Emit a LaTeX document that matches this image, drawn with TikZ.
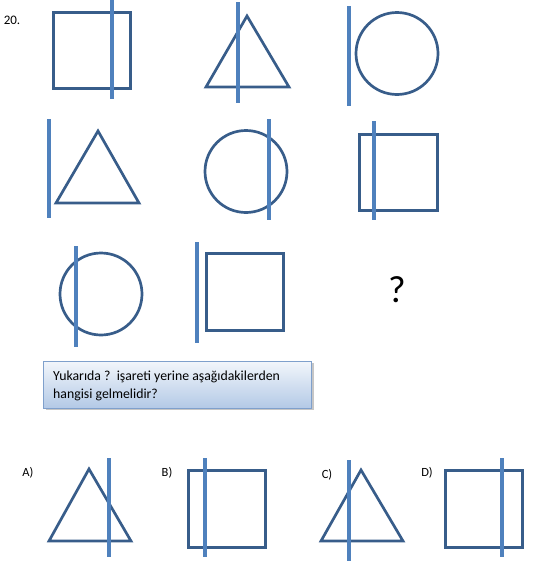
\documentclass[tikz,border=0pt]{standalone}
\usepackage{fontspec}
\setmainfont{Carlito}
\usetikzlibrary{shadows}
\definecolor{figline}{HTML}{385D8A}
\definecolor{barblue}{HTML}{4F81BD}
\definecolor{boxedge}{HTML}{7FA0CC}
\definecolor{boxtop}{HTML}{F2F6FB}
\definecolor{boxbottom}{HTML}{B3C9E6}

\begin{document}
\begin{tikzpicture}[x=1pt,y=-1pt,
    fig/.style={draw=figline, line width=2.7pt},
    sqfig/.style={fig, line width=3pt},
    bar/.style={draw=barblue, line width=4.8pt},
    choice/.style={font=\fontsize{12.5}{14}\selectfont}]
  \useasboundingbox (0,0) rectangle (547,568);
  \node[font=\fontsize{13}{14}\selectfont] (num) at (12,20) {20.};
  % first row
  \draw[sqfig] (53,12) rectangle (130,88);
  \draw[bar] (112,0) -- (112,99);
  \draw[fig] (247,16) -- (289,87) -- (206,87) -- cycle;
  \draw[bar] (238,2) -- (238,103);
  \draw[fig] (397,53.5) circle (41);
  \draw[bar] (349,6) -- (349,106);
  % second row
  \draw[fig] (98,131) -- (139,203) -- (56,203) -- cycle;
  \draw[bar] (49,119) -- (49,218);
  \draw[fig] (246,171.5) circle (41);
  \draw[bar] (269,119) -- (269,220);
  \draw[sqfig] (359,134) rectangle (437,210);
  \draw[bar] (374,121) -- (374,220);
  % third row
  \draw[fig] (101,294) circle (41);
  \draw[bar] (76,246) -- (76,347);
  \draw[sqfig] (206,253) rectangle (283,330);
  \draw[bar] (197,242) -- (197,343);
  \node[font=\fontsize{38}{40}\selectfont] (ask) at (397,290) {?};
  % question box
  \node[draw=boxedge, top color=boxtop, bottom color=boxbottom,
        drop shadow={shadow xshift=3pt, shadow yshift=-2pt, opacity=.45},
        minimum width=268pt, minimum height=47pt, anchor=north west,
        inner sep=0pt] (box) at (43,361) {};
  \node[anchor=base west, inner sep=0pt, font=\fontsize{13.8}{16}\selectfont]
    (line1) at (53,380) {Yukarıda ?\ \ işareti yerine aşağıdakilerden};
  \node[anchor=base west, inner sep=0pt, font=\fontsize{13.8}{16}\selectfont]
    (line2) at (53,398) {hangisi gelmelidir?};
  % choices
  \node[choice] (optA) at (28,473) {A)};
  \draw[fig] (89,469) -- (131,541) -- (49,541) -- cycle;
  \draw[bar] (109,458) -- (109,557);
  \node[choice] (optB) at (167,473) {B)};
  \draw[sqfig] (188,470) rectangle (265,547);
  \draw[bar] (205,458) -- (205,557);
  \node[choice] (optC) at (327,475) {C)};
  \draw[fig] (361,470) -- (403,541) -- (321,541) -- cycle;
  \draw[bar] (349,460) -- (349,561);
  \node[choice] (optD) at (427,473) {D)};
  \draw[sqfig] (445,470) rectangle (522,547);
  \draw[bar] (502,458) -- (502,557);
\end{tikzpicture}
\end{document}
